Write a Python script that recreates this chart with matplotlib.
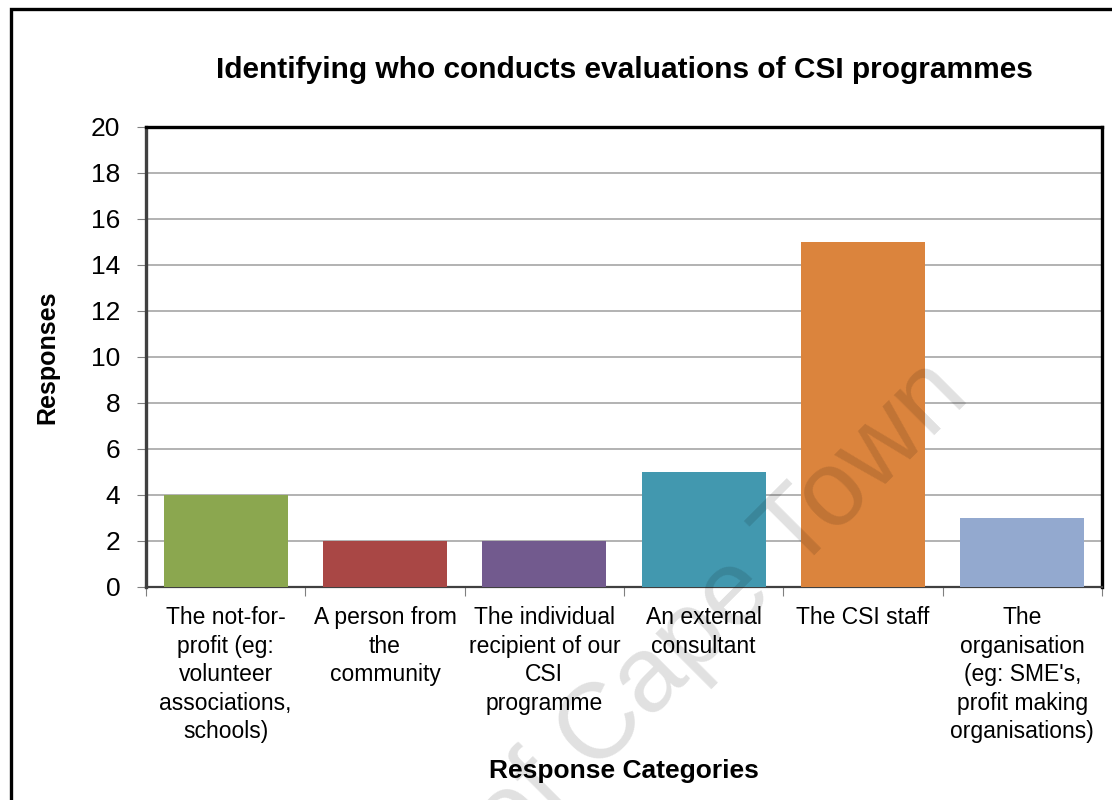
import matplotlib
matplotlib.use("Agg")
import matplotlib.pyplot as plt
import matplotlib.patches as patches
import numpy as np

plt.rcParams["font.family"] = ["Liberation Sans", "DejaVu Sans"]

# data
categories = [
    "The not-for-\nprofit (eg:\nvolunteer\nassociations,\nschools)",
    "A person from\nthe\ncommunity",
    "The individual\nrecipient of our\nCSI\nprogramme",
    "An external\nconsultant",
    "The CSI staff",
    "The\norganisation\n(eg: SME's,\nprofit making\norganisations)",
]
responses = [4, 2, 2, 5, 15, 3]
bar_colors = ["#8BA74F", "#A94745", "#725A8E", "#4298AF", "#DB843D", "#93A9CF"]
y_ticks = list(range(0, 21, 2))

W, H = 1112, 800
fig = plt.figure(figsize=(W / 100, H / 100), dpi=100)
ax = fig.add_axes([146 / W, 1 - 587 / H, 956 / W, 460 / H])

x = np.arange(len(responses))
ax.bar(x, responses, width=0.78, color=bar_colors, zorder=3)

ax.set_xlim(-0.5, len(responses) - 0.5)
ax.set_ylim(0, 20)
ax.set_yticks(y_ticks)
ax.tick_params(axis="y", labelsize=19, length=6.5, color="#808080", pad=12)

# category labels centred, ticks on boundaries
ax.set_xticks(np.arange(len(responses) + 1) - 0.5)
ax.set_xticklabels([])
ax.set_xticks(x, minor=True)
ax.set_xticklabels(categories, minor=True, fontsize=16.5, linespacing=1.3, va="top")
ax.tick_params(axis="x", which="major", length=6.5, color="#808080")
ax.tick_params(axis="x", which="minor", length=0, pad=14)

ax.grid(axis="y", color="#A6A6A6", linewidth=1.2, zorder=0)

for side in ["top", "right"]:
    ax.spines[side].set_color("black")
    ax.spines[side].set_linewidth(2.4)
ax.spines["left"].set_color("#404040")
ax.spines["left"].set_linewidth(2.4)
ax.spines["bottom"].set_color("#404040")
ax.spines["bottom"].set_linewidth(1.6)

fig.text(47 / W, 1 - 357 / H, "Responses", rotation=90, ha="center", va="center",
         fontsize=18, fontweight="bold")
fig.text(624 / W, 1 - 771 / H, "Response Categories", ha="center", va="center",
         fontsize=19, fontweight="bold")
fig.text(624 / W, 1 - 70 / H, "Identifying who conducts evaluations of CSI programmes",
         ha="center", va="center", fontsize=21.5, fontweight="bold")

# watermark
fig.text(972 / W, 1 - 398 / H, "University of Cape Town", fontsize=77,
         color="black", alpha=0.12, rotation=45, rotation_mode="anchor",
         ha="right", va="baseline", zorder=10)

# outer border (runs off the right/bottom edge like the reference)
fig.patches.append(patches.Rectangle((11 / W, -0.05), 1.1, 1 - 9 / H + 0.05,
                                     transform=fig.transFigure, fill=False,
                                     edgecolor="black", linewidth=2.4))

fig.savefig("out.png", dpi=100, facecolor="white")
